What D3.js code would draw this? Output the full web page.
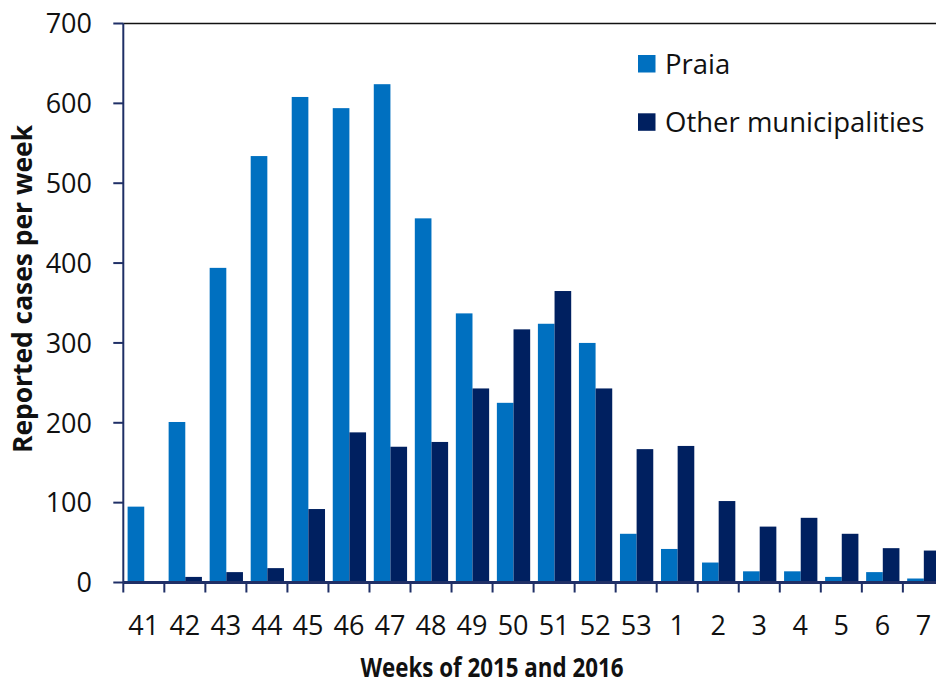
<!DOCTYPE html>
<html>
<head>
<meta charset="utf-8">
<script src="https://cdn.jsdelivr.net/npm/d3@7"></script>
<style>
  html, body { margin: 0; padding: 0; background: #fff; }
  svg { display: block; font-family: "Open Sans", "Noto Sans", sans-serif; }
</style>
</head>
<body>
<svg id="chart" width="936" height="684"></svg>
<script>
// Weekly reported cases, weeks 41/2015 to 7/2016
const weeks = ['41', '42', '43', '44', '45', '46', '47', '48', '49', '50', '51', '52', '53', '1', '2', '3', '4', '5', '6', '7'];
const praia = [95, 201, 394, 534, 608, 594, 624, 456, 337, 225, 324, 300, 61, 42, 25, 14, 14, 7, 13, 5];
const others = [0, 7, 13, 18, 92, 188, 170, 176, 243, 317, 365, 243, 167, 171, 102, 70, 81, 61, 43, 40];
const seriesNames = ['Praia', 'Other municipalities'];
const yTicks = [0, 100, 200, 300, 400, 500, 600, 700];

const COLORS = { Praia: '#0070C0', 'Other municipalities': '#002060' };
const AXIS = '#1F2F66';

const X0 = 123.3, Y0 = 582.5, Y1 = 23.5, BAND = 41.03;

const svg = d3.select('#chart');

const x = d3.scaleBand().domain(weeks).range([X0, X0 + BAND * weeks.length]).paddingInner(0).paddingOuter(0);
const xs = d3.scaleBand().domain(seriesNames).range([4.3, 37.6]);
const y = d3.scaleLinear().domain([0, 700]).range([Y0, Y1]);

const rows = weeks.map((w, i) => ({ week: w, Praia: praia[i], 'Other municipalities': others[i] }));

// bars
const groups = svg.append('g').selectAll('g')
  .data(rows).join('g')
  .attr('transform', (d) => `translate(${x(d.week)},0)`);

groups.selectAll('rect')
  .data((d) => seriesNames.map((s) => ({ s, v: d[s] })))
  .join('rect')
  .attr('x', (d) => xs(d.s))
  .attr('width', xs.bandwidth())
  .attr('y', (d) => y(d.v))
  .attr('height', (d) => Y0 - y(d.v))
  .attr('fill', (d) => COLORS[d.s]);

// top frame line
svg.append('line')
  .attr('x1', X0).attr('x2', 936)
  .attr('y1', Y1).attr('y2', Y1)
  .attr('stroke', '#111').attr('stroke-width', 1.5);

// y axis
const yAxis = svg.append('g');
yAxis.append('line')
  .attr('x1', X0).attr('x2', X0).attr('y1', Y1).attr('y2', Y0)
  .attr('stroke', AXIS).attr('stroke-width', 2);
yAxis.selectAll('line.tick')
  .data(yTicks).join('line')
  .attr('class', 'tick')
  .attr('x1', X0 - 10).attr('x2', X0)
  .attr('y1', (d) => y(d)).attr('y2', (d) => y(d))
  .attr('stroke', AXIS).attr('stroke-width', 2);
yAxis.selectAll('text')
  .data(yTicks).join('text')
  .attr('x', 92).attr('y', (d) => y(d))
  .attr('dy', '0.36em')
  .attr('text-anchor', 'end')
  .attr('font-size', 27)
  .attr('fill', '#111')
  .text((d) => d);

// x axis
const xAxis = svg.append('g');
xAxis.append('line')
  .attr('x1', X0).attr('x2', 936).attr('y1', Y0).attr('y2', Y0)
  .attr('stroke', AXIS).attr('stroke-width', 3);
xAxis.selectAll('line.tick')
  .data(weeks).join('line')
  .attr('class', 'tick')
  .attr('x1', (d) => x(d)).attr('x2', (d) => x(d))
  .attr('y1', Y0).attr('y2', Y0 + 10)
  .attr('stroke', AXIS).attr('stroke-width', 2);
xAxis.selectAll('text')
  .data(weeks).join('text')
  .attr('x', (d) => x(d) + x.bandwidth() / 2)
  .attr('y', 635)
  .attr('text-anchor', 'middle')
  .attr('font-size', 27)
  .attr('fill', '#111')
  .text((d) => d);

// axis titles
svg.append('text')
  .attr('x', 492).attr('y', 677)
  .attr('text-anchor', 'middle')
  .attr('font-size', 26.5).attr('font-weight', 'bold')
  .attr('textLength', 263).attr('lengthAdjust', 'spacingAndGlyphs')
  .attr('fill', '#111')
  .text('Weeks of 2015 and 2016');

svg.append('text')
  .attr('transform', 'translate(32,289) rotate(-90)')
  .attr('text-anchor', 'middle')
  .attr('font-size', 26).attr('font-weight', 'bold')
  .attr('textLength', 328).attr('lengthAdjust', 'spacingAndGlyphs')
  .attr('fill', '#111')
  .text('Reported cases per week');

// legend
const legend = svg.append('g').selectAll('g')
  .data(seriesNames).join('g')
  .attr('transform', (d, i) => `translate(638,${55 + i * 58.3})`);
legend.append('rect')
  .attr('width', 17.5).attr('height', 17.5)
  .attr('fill', (d) => COLORS[d]);
legend.append('text')
  .attr('x', 27).attr('y', 18.5)
  .attr('font-size', 27.5)
  .attr('fill', '#111')
  .text((d) => d);
</script>
</body>
</html>
